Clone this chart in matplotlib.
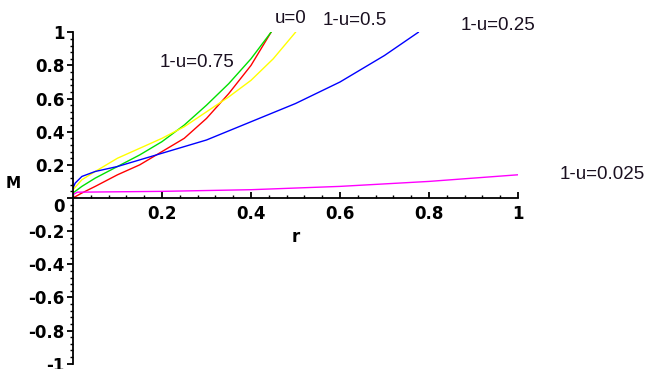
import numpy as np
import matplotlib
matplotlib.use('Agg')
import matplotlib.pyplot as plt
from matplotlib.ticker import MultipleLocator, FixedLocator

# --- courbes M(r) ---
r_u0 = [0, 0.02, 0.05, 0.1, 0.15, 0.2, 0.25, 0.3, 0.35, 0.4, 0.445]
M_u0 = [0, 0.03, 0.07, 0.14, 0.20, 0.28, 0.36, 0.48, 0.63, 0.80, 1.0]

r_075 = [0, 0.02, 0.05, 0.1, 0.15, 0.2, 0.25, 0.3, 0.35, 0.4, 0.445]
M_075 = [0.03, 0.07, 0.12, 0.19, 0.26, 0.34, 0.44, 0.56, 0.69, 0.84, 1.0]

r_05 = [0, 0.02, 0.05, 0.1, 0.15, 0.2, 0.25, 0.3, 0.35, 0.4, 0.45, 0.5]
M_05 = [0.05, 0.11, 0.16, 0.24, 0.30, 0.36, 0.43, 0.52, 0.61, 0.71, 0.84, 1.0]

r_025 = [0, 0.005, 0.02, 0.05, 0.1, 0.2, 0.3, 0.4, 0.5, 0.6, 0.7, 0.776]
M_025 = [0.06, 0.09, 0.13, 0.16, 0.19, 0.27, 0.35, 0.46, 0.57, 0.70, 0.86, 1.0]

r_0025 = [0, 0.01, 0.2, 0.4, 0.6, 0.8, 1.0]
M_0025 = [0.02, 0.035, 0.04, 0.05, 0.07, 0.10, 0.14]

xticks = [0.2, 0.4, 0.6, 0.8, 1.0]
xticklabels = ['0.2', '0.4', '0.6', '0.8', '1']
yticks = [-1, -0.8, -0.6, -0.4, -0.2, 0, 0.2, 0.4, 0.6, 0.8, 1]
yticklabels = ['-1', '-0.8', '-0.6', '-0.4', '-0.2', '0', '0.2', '0.4', '0.6', '0.8', '1']

# --- figure ---
fig = plt.figure(figsize=(6.47, 3.69), dpi=100)
ax = fig.add_axes([0.1128, 0.0144, 0.6878, 0.8981])
ax.set_xlim(0, 1)
ax.set_ylim(-1, 1)

ax.plot(r_u0, M_u0, color='#ff0000', lw=1)
ax.plot(r_075, M_075, color='#00e000', lw=1)
ax.plot(r_05, M_05, color='#ffff00', lw=1)
ax.plot(r_025, M_025, color='#0000ff', lw=1)
ax.plot(r_0025, M_0025, color='#ff00ff', lw=1)

# axes à l'origine (style Maple)
ax.spines['left'].set_position('zero')
ax.spines['bottom'].set_position('zero')
ax.spines['right'].set_visible(False)
ax.spines['top'].set_visible(False)
for s in ('left', 'bottom'):
    ax.spines[s].set_linewidth(1.3)

ax.xaxis.set_major_locator(FixedLocator(xticks))
ax.set_xticklabels(xticklabels)
ax.xaxis.set_minor_locator(MultipleLocator(0.04))
ax.yaxis.set_major_locator(FixedLocator(yticks))
ax.set_yticklabels(yticklabels)
ax.yaxis.set_minor_locator(MultipleLocator(0.04))

ax.tick_params(axis='x', which='both', direction='in', pad=5)
ax.tick_params(axis='y', which='both', direction='out', pad=2)
ax.tick_params(which='major', length=4, width=1.3)
ax.tick_params(which='minor', length=2.5, width=1.0)
for lab in ax.get_xticklabels() + ax.get_yticklabels():
    lab.set_fontfamily('DejaVu Sans')
    lab.set_fontweight('bold')
    lab.set_fontsize(12)
ax.yaxis.get_major_ticks()[5].label1.set_verticalalignment('top')

ax.text(0.50, -0.233, 'r', fontsize=12, fontweight='bold', ha='center', va='center')
ax.text(-0.134, 0.089, 'M', fontsize=11, fontweight='bold', ha='center', va='center')

lab_kw = dict(fontsize=13.5, family='Liberation Sans', color='#1a1020',
              va='center', clip_on=False)
ax.text(0.49, 1.086, 'u=0', ha='center', **lab_kw)
ax.text(0.634, 1.074, '1-u=0.5', ha='center', **lab_kw)
ax.text(0.955, 1.04, '1-u=0.25', ha='center', **lab_kw)
ax.text(1.094, 0.14, '1-u=0.025', ha='left', **lab_kw)
ax.text(0.279, 0.82, '1-u=0.75', ha='center', **lab_kw)

plt.savefig('out.png', dpi=100)
